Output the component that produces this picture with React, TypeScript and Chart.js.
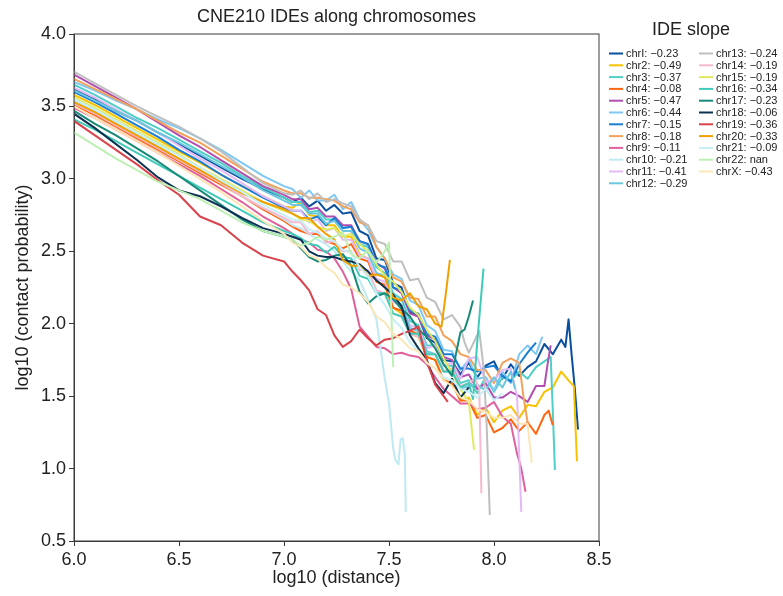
import React, { useEffect, useRef } from "react";
import { Chart, registerables } from "chart.js";

Chart.register(...registerables);

const FONT = "'Liberation Sans', Arial, Helvetica, sans-serif";
const TITLE = "CNE210 IDEs along chromosomes";
const LEGEND_TITLE = "IDE slope";
const X_LABEL = "log10 (distance)";
const Y_LABEL = "log10 (contact probability)";

// shared x grid (log10 distance)
const X_GRID = [
  6.0, 6.1, 6.2, 6.3, 6.4, 6.5, 6.6, 6.7, 6.8, 6.9, 7.0,
  7.04, 7.08, 7.12, 7.16, 7.2, 7.24, 7.28, 7.32, 7.36, 7.4, 7.44, 7.48, 7.52, 7.56, 7.6,
  7.64, 7.68, 7.72, 7.76, 7.8, 7.84, 7.88, 7.92, 7.96, 8.0, 8.04, 8.08, 8.12, 8.16, 8.2,
  8.24, 8.28, 8.32, 8.36, 8.4,
];

const CHR_LABELS = [
  "chrI", "chr2", "chr3", "chr4", "chr5", "chr6", "chr7", "chr8", "chr9", "chr10", "chr11", "chr12",
  "chr13", "chr14", "chr15", "chr16", "chr17", "chr18", "chr19", "chr20", "chr21", "chr22", "chrX",
];
const SLOPES = [
  "−0.23", "−0.49", "−0.37", "−0.08", "−0.47", "−0.44", "−0.15", "−0.18", "−0.11", "−0.21", "−0.41", "−0.29",
  "−0.24", "−0.19", "−0.19", "−0.34", "−0.23", "−0.06", "−0.36", "−0.33", "−0.09", "nan", "−0.43",
];
const COLORS = [
  "#0a4f9e", "#f7c200", "#4ecfc7", "#ff6611", "#b04fb0", "#7ec8f2", "#1b7ed6", "#f4a25a", "#e0609a",
  "#bfeaf3", "#e3baf6", "#6cc6dd", "#bfbfbf", "#f5b9d0", "#e0ea5e", "#3fcbb8", "#178a78", "#0e3352",
  "#d9434b", "#f0a000", "#c6eef6", "#bdf0b4", "#fde6b6",
];

// y values on X_GRID, followed by explicit tail points [x, y]
const Y_CHR1 = [3.62, 3.55, 3.47, 3.40, 3.32, 3.24, 3.16, 3.08, 3.00, 2.93, 2.87,
  2.84, 2.87, 2.81, 2.85, 2.78, 2.82, 2.76, 2.77, 2.64, 2.61, 2.45, 2.44, 2.28, 2.25, 2.08, 2.05, 1.90, 1.87,
  1.75, 1.74, 1.65, 1.73, 1.63, 1.71, 1.74, 1.62, 1.72, 1.64, 1.70, 1.74, 1.86, 1.79, 1.89];
const T_CHR1 = [[8.34, 1.84], [8.355, 2.03], [8.37, 1.78], [8.385, 1.55], [8.4, 1.27]];

const Y_CHR2 = [3.58, 3.51, 3.43, 3.35, 3.27, 3.19, 3.11, 3.03, 2.95, 2.88, 2.81,
  2.80, 2.84, 2.75, 2.74, 2.68, 2.68, 2.60, 2.60, 2.48, 2.45, 2.29, 2.26, 2.11, 2.07, 1.93, 1.91, 1.77, 1.75,
  1.61, 1.59, 1.47, 1.49, 1.37, 1.42, 1.32, 1.40, 1.43, 1.35, 1.44, 1.43, 1.53, 1.56, 1.67, 1.60];
const T_CHR2 = [[8.38, 1.57], [8.395, 1.05]];

const Y_CHR3 = [3.65, 3.58, 3.50, 3.42, 3.35, 3.27, 3.19, 3.11, 3.02, 2.94, 2.87,
  2.84, 2.84, 2.77, 2.78, 2.72, 2.72, 2.66, 2.67, 2.55, 2.53, 2.39, 2.35, 2.21, 2.17, 2.02, 1.99, 1.85, 1.85,
  1.71, 1.71, 1.59, 1.61, 1.52, 1.63, 1.53, 1.63, 1.61, 1.67, 1.62, 1.70, 1.74];
const T_CHR3 = [[8.27, 1.77], [8.28, 1.4], [8.29, 0.99]];

const Y_CHR4 = [3.51, 3.44, 3.36, 3.28, 3.20, 3.12, 3.04, 2.96, 2.88, 2.79, 2.71,
  2.67, 2.64, 2.62, 2.62, 2.57, 2.55, 2.52, 2.55, 2.45, 2.43, 2.29, 2.27, 2.11, 2.09, 1.95, 1.93, 1.77, 1.75,
  1.61, 1.59, 1.47, 1.47, 1.35, 1.37, 1.25, 1.28, 1.34, 1.26, 1.32, 1.24, 1.37];
const T_CHR4 = [[8.26, 1.4], [8.28, 1.3]];

const Y_CHR5 = [3.72, 3.64, 3.56, 3.48, 3.39, 3.30, 3.22, 3.13, 3.04, 2.95, 2.89,
  2.86, 2.86, 2.79, 2.80, 2.74, 2.74, 2.68, 2.68, 2.57, 2.55, 2.42, 2.38, 2.25, 2.21, 2.07, 2.05, 1.92, 1.89,
  1.77, 1.75, 1.63, 1.65, 1.55, 1.59, 1.49, 1.49, 1.53, 1.50, 1.46, 1.57, 1.57];
const T_CHR5 = [[8.255, 1.72], [8.27, 1.85]];

const Y_CHR6 = [3.67, 3.61, 3.54, 3.48, 3.41, 3.35, 3.28, 3.20, 3.11, 3.02, 2.95,
  2.93, 2.87, 2.92, 2.85, 2.85, 2.89, 2.79, 2.84, 2.72, 2.65, 2.53, 2.45, 2.34, 2.31, 2.16, 2.13, 1.99, 1.95,
  1.82, 1.81, 1.68, 1.75, 1.62, 1.63, 1.54, 1.67, 1.59, 1.79, 1.85, 1.79];
const T_CHR6 = [[8.23, 1.91]];

const Y_CHR7 = [3.60, 3.53, 3.45, 3.37, 3.29, 3.20, 3.12, 3.03, 2.95, 2.87, 2.80,
  2.78, 2.78, 2.72, 2.74, 2.68, 2.73, 2.66, 2.67, 2.57, 2.55, 2.41, 2.39, 2.25, 2.23, 2.09, 2.07, 1.93, 1.91,
  1.79, 1.79, 1.69, 1.69, 1.67, 1.70, 1.71, 1.64, 1.60, 1.72, 1.80];
const T_CHR7 = [[8.2, 1.87]];

const Y_CHR8 = [3.69, 3.62, 3.55, 3.48, 3.40, 3.32, 3.25, 3.16, 3.07, 2.98, 2.92,
  2.90, 2.90, 2.87, 2.87, 2.86, 2.85, 2.81, 2.79, 2.70, 2.68, 2.53, 2.45, 2.32, 2.29, 2.18, 2.17, 2.05, 2.05,
  1.92, 1.88, 1.79, 1.77, 1.68, 1.68, 1.59, 1.73, 1.76, 1.73];
const T_CHR8 = [[8.14, 1.5], [8.16, 1.32]];

const Y_CHR9 = [3.49, 3.42, 3.34, 3.26, 3.18, 3.10, 3.02, 2.93, 2.84, 2.74, 2.66,
  2.62, 2.58, 2.56, 2.51, 2.50, 2.45, 2.36, 2.24, 1.98, 1.91, 1.84, 1.83, 1.79, 1.80, 1.78, 1.77, 1.72, 1.63,
  1.55, 1.50, 1.45, 1.45, 1.41, 1.42, 1.46, 1.36, 1.31];
const T_CHR9 = [[8.11, 1.1], [8.13, 1.0], [8.15, 0.84]];

const Y_CHR10 = [3.54, 3.47, 3.39, 3.31, 3.23, 3.14, 3.06, 2.97, 2.88, 2.80, 2.72,
  2.68, 2.66, 2.62, 2.58, 2.55, 2.50, 2.43, 2.36, 2.30, 2.17, 2.03, 1.62];
const T_CHR10 = [[7.5, 1.45], [7.52, 1.14], [7.53, 1.06], [7.545, 1.03], [7.555, 1.2], [7.565, 1.21], [7.575, 1.1], [7.58, 0.7]];

const Y_CHR11 = [3.63, 3.56, 3.48, 3.40, 3.32, 3.23, 3.14, 3.06, 2.97, 2.88, 2.81,
  2.78, 2.78, 2.70, 2.72, 2.64, 2.66, 2.58, 2.58, 2.47, 2.45, 2.31, 2.29, 2.15, 2.13, 1.99, 1.97, 1.83, 1.85,
  1.71, 1.73, 1.62, 1.76, 1.77, 1.60, 1.61, 1.68, 1.69];
const T_CHR11 = [[8.11, 1.5], [8.12, 1.1], [8.13, 0.7]];

const Y_CHR12 = [3.61, 3.54, 3.47, 3.40, 3.32, 3.25, 3.17, 3.09, 3.01, 2.92, 2.85,
  2.82, 2.82, 2.76, 2.76, 2.69, 2.71, 2.64, 2.64, 2.52, 2.49, 2.35, 2.33, 2.17, 2.13, 1.97, 1.95, 1.81, 1.79,
  1.67, 1.67, 1.55, 1.57, 1.58, 1.54, 1.63, 1.56, 1.67];
const T_CHR12 = [[8.1, 1.55]];

const Y_CHR13 = [3.74, 3.66, 3.58, 3.50, 3.43, 3.36, 3.28, 3.19, 3.08, 2.97, 2.90,
  2.89, 2.92, 2.86, 2.90, 2.84, 2.86, 2.83, 2.81, 2.72, 2.68, 2.57, 2.55, 2.43, 2.43, 2.30, 2.31, 2.18, 2.15,
  2.03, 2.06, 1.98];
const T_CHR13 = [[7.86, 1.87], [7.88, 1.8], [7.9, 1.86], [7.93, 1.95], [7.95, 1.7], [7.965, 1.3], [7.98, 0.68]];

const Y_CHR14 = [3.52, 3.45, 3.37, 3.29, 3.21, 3.13, 3.05, 2.97, 2.88, 2.80, 2.73,
  2.70, 2.70, 2.62, 2.64, 2.56, 2.57, 2.50, 2.50, 2.37, 2.37, 2.23, 2.21, 2.07, 2.05, 1.93, 1.91, 1.79, 1.79,
  1.67, 1.69, 1.57, 1.59];
const T_CHR14 = [[7.91, 1.62], [7.93, 1.55], [7.94, 0.83]];

const Y_CHR15 = [3.56, 3.49, 3.41, 3.33, 3.25, 3.17, 3.08, 3.00, 2.92, 2.84, 2.78,
  2.76, 2.72, 2.71, 2.67, 2.65, 2.66, 2.60, 2.62, 2.55, 2.50, 2.41, 2.33, 2.29, 2.22, 2.11, 2.06, 1.96, 1.88,
  1.76, 1.66, 1.55, 1.46];
const T_CHR15 = [[7.905, 1.13]];

const Y_CHR16 = [3.41, 3.34, 3.26, 3.18, 3.10, 3.02, 2.94, 2.86, 2.78, 2.70, 2.64,
  2.62, 2.59, 2.55, 2.54, 2.49, 2.53, 2.46, 2.45, 2.33, 2.31, 2.21, 2.21, 2.07, 2.05, 1.93, 1.93, 1.79, 1.79,
  1.67, 1.67, 1.56, 1.59];
const T_CHR16 = [[7.9, 1.48], [7.92, 1.87], [7.95, 2.38]];

const Y_CHR17 = [3.47, 3.38, 3.30, 3.21, 3.12, 3.02, 2.92, 2.82, 2.72, 2.64, 2.60,
  2.58, 2.52, 2.46, 2.43, 2.44, 2.47, 2.48, 2.40, 2.22, 2.14, 2.19, 2.21, 2.17, 2.10, 2.05, 1.96, 1.91, 1.83,
  1.72];
const T_CHR17 = [[7.8, 1.64], [7.82, 1.8], [7.84, 1.94], [7.86, 1.96], [7.88, 2.05], [7.9, 2.16]];

const Y_CHR18 = [3.45, 3.35, 3.24, 3.13, 3.01, 2.92, 2.88, 2.81, 2.73, 2.66, 2.62,
  2.60, 2.58, 2.50, 2.47, 2.46, 2.46, 2.44, 2.43, 2.41, 2.36, 2.30, 2.25, 2.20, 2.12, 1.92, 1.83, 1.75, 1.59,
  1.52, 1.62, 1.49, 1.56];
const T_CHR18: number[][] = [];

const Y_CHR19 = [3.40, 3.30, 3.20, 3.10, 2.99, 2.89, 2.74, 2.68, 2.56, 2.47, 2.43,
  2.36, 2.30, 2.23, 2.10, 2.06, 1.92, 1.84, 1.88, 1.96, 1.90, 1.85, 1.89, 1.90, 1.93, 1.95, 1.98, 1.74, 1.58,
  1.50];
const T_CHR19 = [[7.78, 1.46]];

const Y_CHR20 = [3.53, 3.46, 3.38, 3.30, 3.22, 3.14, 3.06, 2.98, 2.90, 2.84, 2.79,
  2.76, 2.73, 2.73, 2.67, 2.62, 2.58, 2.44, 2.40, 2.40, 2.33, 2.34, 2.32, 2.18, 2.16, 2.21, 2.12, 2.10, 2.00];
const T_CHR20 = [[7.75, 1.98], [7.77, 2.2], [7.79, 2.44]];

const Y_CHR21 = [3.55, 3.48, 3.40, 3.32, 3.24, 3.16, 3.08, 2.99, 2.91, 2.82, 2.75,
  2.72, 2.71, 2.65, 2.63, 2.59, 2.57, 2.51, 2.49, 2.39, 2.33, 2.21, 2.13, 2.03, 1.97, 1.87, 1.81, 1.73, 1.69,
  1.63, 1.61, 1.55, 1.53, 1.49, 1.55, 1.47, 1.52];
const T_CHR21: number[][] = [];

const Y_CHR22 = [3.32, 3.23, 3.14, 3.06, 2.98, 2.92, 2.86, 2.78, 2.70, 2.64, 2.60,
  2.58, 2.54, 2.56, 2.60, 2.58, 2.60, 2.63, 2.48, 2.45, 2.51, 2.42, 2.50];
const T_CHR22 = [[7.5, 2.56], [7.52, 1.7]];

const Y_CHRX = [3.50, 3.42, 3.34, 3.26, 3.18, 3.09, 3.00, 2.91, 2.81, 2.71, 2.62,
  2.56, 2.53, 2.47, 2.45, 2.39, 2.35, 2.27, 2.25, 2.21, 2.15, 2.05, 2.01, 1.93, 1.89, 1.83, 1.81, 1.73, 1.69,
  1.61, 1.57, 1.49, 1.47, 1.41, 1.39, 1.35, 1.35, 1.37, 1.31, 1.31];
const T_CHRX = [[8.18, 1.04]];

const SERIES_Y = [Y_CHR1, Y_CHR2, Y_CHR3, Y_CHR4, Y_CHR5, Y_CHR6, Y_CHR7, Y_CHR8, Y_CHR9, Y_CHR10, Y_CHR11,
  Y_CHR12, Y_CHR13, Y_CHR14, Y_CHR15, Y_CHR16, Y_CHR17, Y_CHR18, Y_CHR19, Y_CHR20, Y_CHR21, Y_CHR22, Y_CHRX];
const SERIES_TAIL = [T_CHR1, T_CHR2, T_CHR3, T_CHR4, T_CHR5, T_CHR6, T_CHR7, T_CHR8, T_CHR9, T_CHR10, T_CHR11,
  T_CHR12, T_CHR13, T_CHR14, T_CHR15, T_CHR16, T_CHR17, T_CHR18, T_CHR19, T_CHR20, T_CHR21, T_CHR22, T_CHRX];

const X_TICKS = [6.0, 6.5, 7.0, 7.5, 8.0, 8.5];
const Y_TICKS = [0.5, 1.0, 1.5, 2.0, 2.5, 3.0, 3.5, 4.0];

function toPoints(ys: number[], tail: number[][]) {
  const pts = ys.map((y, i) => ({ x: X_GRID[i], y }));
  tail.forEach(([x, y]) => pts.push({ x, y }));
  return pts;
}

const overlayPlugin = {
  id: "overlay",
  afterDraw(chart: any) {
    const { ctx, chartArea: a } = chart;
    ctx.save();
    // frame
    ctx.strokeStyle = "#3a3a3a";
    ctx.lineWidth = 1;
    ctx.strokeRect(a.left, a.top, a.right - a.left, a.bottom - a.top);
    // title
    ctx.fillStyle = "#222";
    ctx.textAlign = "center";
    ctx.textBaseline = "middle";
    ctx.font = `18px ${FONT}`;
    ctx.fillText(TITLE, (a.left + a.right) / 2, 17);
    ctx.fillText(LEGEND_TITLE, 691, 30);
    // legend entries
    ctx.font = `11px ${FONT}`;
    ctx.textAlign = "left";
    const perCol = 12;
    CHR_LABELS.forEach((lab, i) => {
      const col = i < perCol ? 0 : 1;
      const row = i < perCol ? i : i - perCol;
      const x0 = col === 0 ? 609 : 699;
      const y = 53.5 + row * 11.8;
      ctx.strokeStyle = COLORS[i];
      ctx.lineWidth = 2;
      ctx.beginPath();
      ctx.moveTo(x0, y);
      ctx.lineTo(x0 + 14, y);
      ctx.stroke();
      ctx.fillStyle = "#222";
      ctx.fillText(`${lab}: ${SLOPES[i]}`, x0 + 17, y + 0.5);
    });
    ctx.restore();
  },
};

export default function App() {
  const ref = useRef<HTMLCanvasElement | null>(null);
  useEffect(() => {
    document.body.style.margin = "0";
    const canvas = ref.current;
    if (!canvas) return;
    const n = CHR_LABELS.length;
    const datasets = CHR_LABELS.map((lab, i) => ({
      label: lab,
      data: toPoints(SERIES_Y[i], SERIES_TAIL[i]),
      borderColor: COLORS[i],
      backgroundColor: COLORS[i],
      borderWidth: 2,
      pointRadius: 0,
      showLine: true,
      tension: 0,
      fill: false,
      borderJoinStyle: "round" as const,
      order: n - i,
    }));
    const tickFont = { family: FONT, size: 18 };
    const chart = new Chart(canvas, {
      type: "scatter",
      data: { datasets },
      options: {
        animation: false,
        responsive: false,
        devicePixelRatio: 1,
        layout: { padding: { top: 34, right: 184, left: 0, bottom: 0 } },
        plugins: { legend: { display: false }, tooltip: { enabled: false }, title: { display: false } },
        scales: {
          x: {
            type: "linear",
            min: 6.0,
            max: 8.5,
            afterFit: (s: any) => { s.height = 55; },
            afterBuildTicks: (s: any) => { s.ticks = X_TICKS.map((v) => ({ value: v })); },
            ticks: { font: tickFont, color: "#222", padding: 3, callback: (v: any) => Number(v).toFixed(1), maxRotation: 0 },
            grid: { drawOnChartArea: false, drawTicks: true, tickLength: 5, color: "#3a3a3a" },
            border: { display: true, color: "#3a3a3a" },
            title: { display: true, text: X_LABEL, font: { family: FONT, size: 18 }, color: "#222", padding: { top: 0, bottom: 7 } },
          },
          y: {
            type: "linear",
            min: 0.5,
            max: 4.0,
            afterFit: (s: any) => { s.width = 74; },
            afterBuildTicks: (s: any) => { s.ticks = Y_TICKS.map((v) => ({ value: v })); },
            ticks: { font: tickFont, color: "#222", padding: 3, callback: (v: any) => Number(v).toFixed(1) },
            grid: { drawOnChartArea: false, drawTicks: true, tickLength: 5, color: "#3a3a3a" },
            border: { display: true, color: "#3a3a3a" },
            title: { display: true, text: Y_LABEL, font: { family: FONT, size: 18 }, color: "#222", padding: { top: 12, bottom: 0 } },
          },
        },
      },
      plugins: [overlayPlugin],
    });
    return () => chart.destroy();
  }, []);
  return (
    <div style={{ width: 783, height: 596, background: "#fff" }}>
      <canvas ref={ref} width={783} height={596} style={{ display: "block" }} />
    </div>
  );
}
